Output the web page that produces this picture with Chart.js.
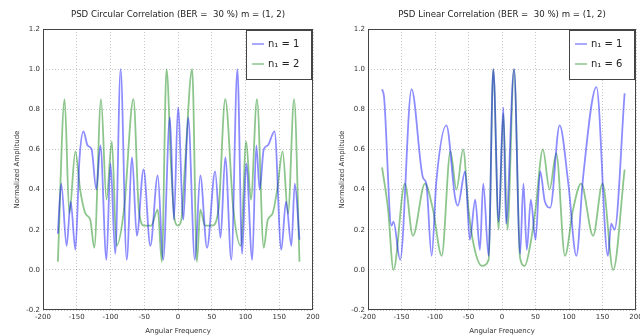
<!DOCTYPE html>
<html lang="en">
<head>
    <meta charset="UTF-8">
    <title>PSD Correlation</title>
    <script src="https://cdn.jsdelivr.net/npm/chart.js"></script>
    <style>
        body { margin: 0; background: #ffffff; }
        .box { position: absolute; top: 0; }
    </style>
</head>
<body>
    <div class="box" style="left:0"><canvas id="circChart" width="320" height="335"></canvas></div>
    <div class="box" style="left:320px"><canvas id="linChart" width="320" height="335"></canvas></div>

    <script>
        // tick values
        const xTicks = [-200, -150, -100, -50, 0, 50, 100, 150, 200];
        const yTicks = [-0.2, 0.0, 0.2, 0.4, 0.6, 0.8, 1.0, 1.2];

        // circular correlation, n1 = 1
        const circFreq1 = [-178,-173,-165,-159,-152,-146,-140,-134,-128,-121,-115,-106,-100,-93,-85,-76,-68,-61,-51,-41,-30,-22,-12,-6,0,8,15,25,33,43,55,63,70,79,88,95,101,110,116,121,127,133,143,153,160,168,173,180];
        const circAmp1  = [0.18,0.43,0.12,0.34,0.10,0.55,0.69,0.62,0.60,0.40,0.62,0.05,0.53,0.08,1.00,0.05,0.56,0.17,0.50,0.12,0.47,0.05,0.76,0.25,0.81,0.25,0.76,0.05,0.47,0.11,0.49,0.16,0.56,0.05,1.00,0.08,0.53,0.05,0.62,0.40,0.60,0.62,0.69,0.10,0.34,0.12,0.43,0.15];

        // circular correlation, n1 = 2
        const circFreq2 = [-178,-168,-161,-152,-145,-137,-130,-124,-114,-106,-98,-91,-80,-66,-58,-50,-40,-30,-24,-17,-10,-5,0,5,10,21,28,33,40,50,60,70,82,93,101,108,117,127,133,140,147,155,163,172,180];
        const circAmp2  = [0.04,0.85,0.28,0.59,0.40,0.28,0.25,0.11,0.85,0.35,0.64,0.12,0.30,0.85,0.30,0.22,0.22,0.30,0.04,1.00,0.50,0.25,0.22,0.25,0.50,1.00,0.04,0.30,0.22,0.22,0.30,0.85,0.30,0.12,0.64,0.35,0.85,0.11,0.25,0.28,0.40,0.59,0.28,0.85,0.04];

        // linear correlation, n1 = 1
        const linFreq1 = [-179,-176,-165,-162,-152,-135,-118,-113,-105,-98,-83,-70,-66,-55,-48,-40,-33,-28,-20,-13,-5,2,6,18,27,32,37,43,50,57,64,72,86,99,111,121,141,158,163,168,183];
        const linAmp1  = [0.90,0.86,0.22,0.24,0.05,0.90,0.46,0.43,0.07,0.44,0.72,0.36,0.32,0.49,0.15,0.35,0.10,0.43,0.07,1.00,0.24,0.81,0.23,1.00,0.08,0.43,0.10,0.35,0.15,0.49,0.34,0.31,0.72,0.43,0.07,0.46,0.91,0.07,0.23,0.20,0.88];

        // linear correlation, n1 = 6
        const linFreq6 = [-179,-170,-162,-145,-133,-115,-103,-90,-77,-68,-58,-50,-42,-30,-20,-13,-5,2,8,18,27,34,42,50,61,71,81,94,106,118,136,150,166,183];
        const linAmp6  = [0.51,0.30,0.00,0.43,0.17,0.43,0.30,0.07,0.59,0.40,0.60,0.30,0.12,0.02,0.05,1.00,0.20,0.78,0.20,1.00,0.06,0.02,0.12,0.30,0.60,0.40,0.58,0.07,0.30,0.43,0.17,0.43,0.00,0.50];

        const FONT = 'DejaVu Sans';
        const BLUE = 'rgba(0, 0, 255, 0.45)';
        const GREEN = 'rgba(0, 128, 0, 0.45)';

        function toPoints(xs, ys) {
            return xs.map((x, i) => ({ x: x, y: ys[i] }));
        }

        // frame round the axes, title over the axes and a legend box in the upper right corner
        const framePlugin = {
            id: 'frame',
            afterDatasetsDraw(chart, args, opts) {
                const ctx = chart.ctx;
                const a = chart.chartArea;
                ctx.save();
                ctx.strokeStyle = '#444';
                ctx.lineWidth = 1;
                ctx.strokeRect(a.left + 0.5, a.top + 0.5, a.width - 1, a.height - 1);

                ctx.fillStyle = '#222';
                ctx.font = '8.6px ' + FONT;
                ctx.textAlign = 'center';
                ctx.textBaseline = 'middle';
                ctx.fillText(opts.text, (a.left + a.right) / 2, 15);

                const bw = 66, bh = 50;
                const bx = a.right - bw - 1, by = a.top + 1;
                ctx.fillStyle = '#ffffff';
                ctx.fillRect(bx, by, bw, bh);
                ctx.strokeRect(bx + 0.5, by + 0.5, bw - 1, bh - 1);
                ctx.font = '10px ' + FONT;
                ctx.textAlign = 'left';
                chart.data.datasets.forEach((ds, i) => {
                    const yy = by + 14 + i * 20;
                    ctx.strokeStyle = ds.borderColor;
                    ctx.lineWidth = 1.5;
                    ctx.beginPath();
                    ctx.moveTo(bx + 6, yy);
                    ctx.lineTo(bx + 18, yy);
                    ctx.stroke();
                    ctx.fillStyle = '#222';
                    ctx.fillText(ds.label, bx + 22, yy);
                });
                ctx.restore();
            }
        };

        function makeChart(id, title, series, yWidth, padRight, yTitlePad) {
            const ctx = document.getElementById(id).getContext('2d');
            return new Chart(ctx, {
                type: 'line',
                data: {
                    datasets: series.map(s => ({
                        label: s.label,
                        data: toPoints(s.xs, s.ys),
                        borderColor: s.color,
                        borderWidth: 1.8,
                        pointRadius: 0,
                        fill: false,
                        cubicInterpolationMode: 'monotone'
                    }))
                },
                options: {
                    responsive: false,
                    animation: false,
                    devicePixelRatio: 1,
                    layout: { padding: { left: 0, right: padRight, top: 29, bottom: 0 } },
                    plugins: {
                        legend: { display: false },
                        tooltip: { enabled: false },
                        title: { display: false },
                        frame: { text: title }
                    },
                    scales: {
                        x: {
                            type: 'linear',
                            min: -200,
                            max: 200,
                            afterBuildTicks: s => { s.ticks = xTicks.map(v => ({ value: v })); },
                            grid: { color: 'rgba(0,0,0,0.22)', drawTicks: false },
                            border: { display: false, dash: [1, 2] },
                            ticks: {
                                color: '#333',
                                font: { family: FONT, size: 7 },
                                padding: 3,
                                maxRotation: 0,
                                callback: v => String(v)
                            },
                            title: {
                                display: true,
                                text: 'Angular Frequency',
                                color: '#333',
                                font: { family: FONT, size: 7 },
                                padding: 0
                            },
                            afterFit: s => { s.height = 25; s.paddingLeft = 0; s.paddingRight = 0; }
                        },
                        y: {
                            min: -0.2,
                            max: 1.2,
                            afterBuildTicks: s => { s.ticks = yTicks.map(v => ({ value: v })); },
                            grid: { color: 'rgba(0,0,0,0.22)', drawTicks: false },
                            border: { display: false, dash: [1, 2] },
                            ticks: {
                                color: '#333',
                                font: { family: FONT, size: 7 },
                                padding: 3,
                                callback: v => v.toFixed(1)
                            },
                            title: {
                                display: true,
                                text: 'Normalized Amplitude',
                                color: '#333',
                                font: { family: FONT, size: 7 },
                                padding: { top: yTitlePad, bottom: 0 }
                            },
                            afterFit: s => { s.width = yWidth; s.paddingTop = 0; s.paddingBottom = 0; }
                        }
                    }
                },
                plugins: [framePlugin]
            });
        }

        makeChart('circChart', 'PSD Circular Correlation (BER =  30 %) m = (1, 2)', [
            { label: 'n\u2081 = 1', xs: circFreq1, ys: circAmp1, color: BLUE },
            { label: 'n\u2081 = 2', xs: circFreq2, ys: circAmp2, color: GREEN }
        ], 43, 7, 13);

        makeChart('linChart', 'PSD Linear Correlation (BER =  30 %) m = (1, 2)', [
            { label: 'n\u2081 = 1', xs: linFreq1, ys: linAmp1, color: BLUE },
            { label: 'n\u2081 = 6', xs: linFreq6, ys: linAmp6, color: GREEN }
        ], 48, 4, 18);
    </script>
</body>
</html>
